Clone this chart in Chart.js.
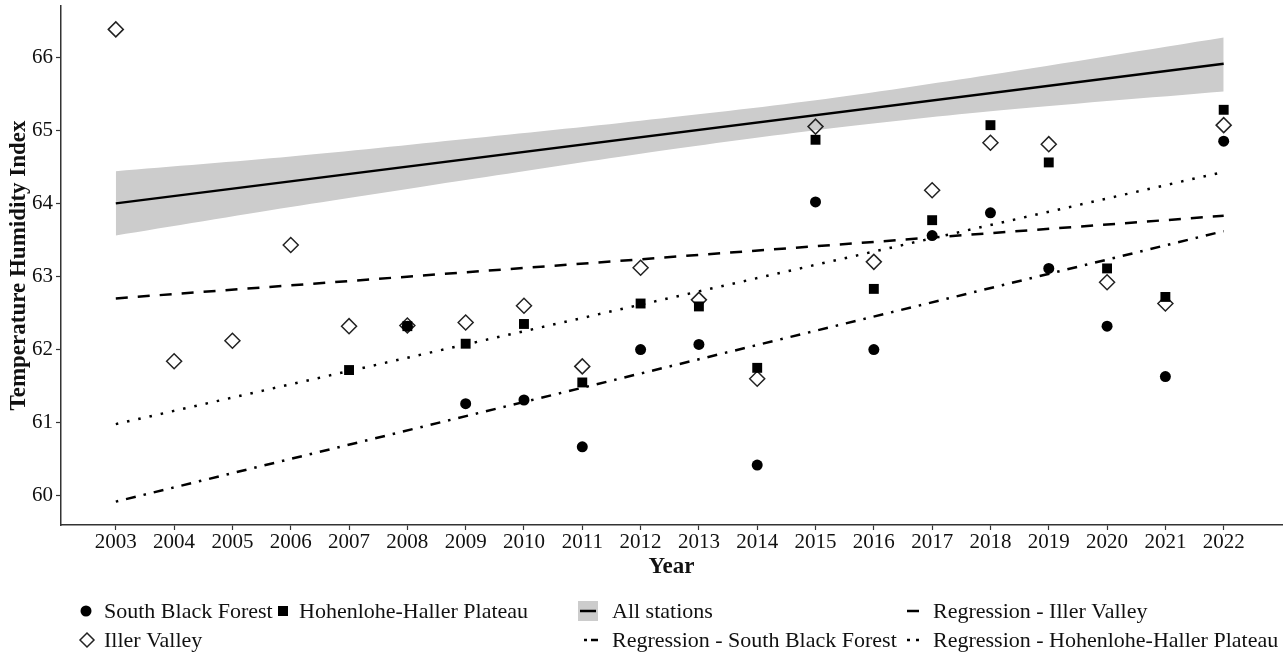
<!DOCTYPE html>
<html>
<head>
<meta charset="utf-8">
<script src="https://cdn.jsdelivr.net/npm/chart.js@4/dist/chart.umd.min.js"></script>
<style>
  html, body { margin: 0; padding: 0; background: #ffffff; overflow: hidden; }
  #wrap { width: 1285px; height: 659px; }
  canvas { display: block; }
</style>
</head>
<body>
<div id="wrap"><canvas id="c" width="1285" height="659"></canvas></div>
<script>
// ---------- DATA ----------
const years = [2003, 2004, 2005, 2006, 2007, 2008, 2009, 2010, 2011, 2012,
               2013, 2014, 2015, 2016, 2017, 2018, 2019, 2020, 2021, 2022];

const southBlackForest = [null, null, null, null, null, 62.32, 61.26, 61.31, 60.67, 62.00,
                          62.07, 60.42, 64.02, 62.00, 63.56, 63.87, 63.11, 62.32, 61.63, 64.85];
const hohenloheHaller  = [null, null, null, null, 61.72, 62.32, 62.08, 62.35, 61.55, 62.63,
                          62.59, 61.75, 64.87, 62.83, 63.77, 65.07, 64.56, 63.11, 62.72, 65.28];
const illerValley      = [66.38, 61.84, 62.12, 63.43, 62.32, 62.33, 62.37, 62.60, 61.77, 63.12,
                          62.68, 61.60, 65.05, 63.20, 64.18, 64.83, 64.81, 62.92, 62.63, 65.07];

// regression lines (end points)
const regYears      = [2003, 2022];
const allStations   = [64.00, 65.91];
const regIller      = [62.70, 63.83];
const regSBF        = [59.92, 63.62];
const regHHP        = [60.98, 64.43];

// confidence band of "All stations"
const ribbonYears = [2003, 2006, 2009, 2012, 2015, 2018, 2022];
const ribbonUpper = [64.44, 64.64, 64.88, 65.13, 65.41, 65.76, 66.27];
const ribbonLower = [63.56, 63.95, 64.32, 64.68, 65.00, 65.26, 65.53];

const yTicks = [60, 61, 62, 63, 64, 65, 66];

const legendLabels = ['South Black Forest', 'Hohenlohe-Haller Plateau', 'All stations',
                      'Regression - Iller Valley', 'Iller Valley',
                      'Regression - South Black Forest', 'Regression - Hohenlohe-Haller Plateau'];

// ---------- helpers ----------
const pts = (xs, ys) => xs.map((x, i) => ({ x: x, y: ys[i] })).filter(p => p.y !== null);
const FONT = '"Liberation Serif", "Times New Roman", Times, serif';
const AXIS = '#333333';
const noPad = s => { s.paddingTop = 0; s.paddingBottom = 0; s.paddingLeft = 0; s.paddingRight = 0; };

// ---------- custom legend (drawn on canvas) ----------
const legendPlugin = {
  id: 'ggLegend',
  afterDraw(chart) {
    const ctx = chart.ctx;
    const r1 = 611, r2 = 640;
    ctx.save();
    ctx.font = '22px ' + FONT;
    ctx.fillStyle = '#111';
    ctx.textBaseline = 'middle';
    ctx.textAlign = 'left';
    // row 1
    ctx.beginPath(); ctx.arc(86, r1, 5.5, 0, Math.PI * 2); ctx.fillStyle = '#000'; ctx.fill();
    ctx.fillStyle = '#111'; ctx.fillText(legendLabels[0], 104, r1 + 1);
    ctx.fillStyle = '#000'; ctx.fillRect(278, r1 - 5, 10, 10);
    ctx.fillStyle = '#111'; ctx.fillText(legendLabels[1], 299, r1 + 1);
    ctx.fillStyle = '#cccccc'; ctx.fillRect(578, r1 - 10, 20, 20);
    ctx.strokeStyle = '#000'; ctx.lineWidth = 2.5;
    ctx.beginPath(); ctx.moveTo(580, r1); ctx.lineTo(596, r1); ctx.stroke();
    ctx.fillStyle = '#111'; ctx.fillText(legendLabels[2], 612, r1 + 1);
    ctx.beginPath(); ctx.moveTo(907, r1); ctx.lineTo(919, r1); ctx.stroke();
    ctx.fillText(legendLabels[3], 933, r1 + 1);
    // row 2
    ctx.lineWidth = 1.5; ctx.strokeStyle = '#222';
    ctx.beginPath();
    ctx.moveTo(87 - 7, r2); ctx.lineTo(87, r2 - 7); ctx.lineTo(87 + 7, r2); ctx.lineTo(87, r2 + 7);
    ctx.closePath(); ctx.stroke();
    ctx.fillText(legendLabels[4], 104, r2 + 1);
    ctx.strokeStyle = '#000'; ctx.lineWidth = 2.5;
    ctx.beginPath(); ctx.moveTo(584, r2); ctx.lineTo(587, r2); ctx.stroke();
    ctx.beginPath(); ctx.moveTo(591, r2); ctx.lineTo(598, r2); ctx.stroke();
    ctx.fillText(legendLabels[5], 612, r2 + 1);
    ctx.beginPath(); ctx.moveTo(907, r2); ctx.lineTo(910, r2); ctx.stroke();
    ctx.beginPath(); ctx.moveTo(916, r2); ctx.lineTo(919, r2); ctx.stroke();
    ctx.fillText(legendLabels[6], 933, r2 + 1);
    ctx.restore();
  }
};

const lineBase = { pointRadius: 0, borderWidth: 2.5, borderColor: '#000', fill: false,
                   tension: 0, borderCapStyle: 'butt', showLine: true };

new Chart(document.getElementById('c'), {
  type: 'line',
  data: {
    datasets: [
      { label: legendLabels[1], data: pts(years, hohenloheHaller), showLine: false,
        pointStyle: 'rect', pointRadius: 7, backgroundColor: '#000', borderColor: '#000', borderWidth: 0 },
      { label: legendLabels[0], data: pts(years, southBlackForest), showLine: false,
        pointStyle: 'circle', pointRadius: 5.5, backgroundColor: '#000', borderColor: '#000', borderWidth: 0 },
      { label: legendLabels[4], data: pts(years, illerValley), showLine: false,
        pointStyle: 'rectRot', pointRadius: 7.5, backgroundColor: 'rgba(255,255,255,0)', borderColor: '#222', borderWidth: 1.5 },
      Object.assign({ label: legendLabels[2], data: pts(regYears, allStations) }, lineBase),
      Object.assign({ label: legendLabels[3], data: pts(regYears, regIller) }, lineBase, { borderDash: [12, 10] }),
      Object.assign({ label: legendLabels[5], data: pts(regYears, regSBF) }, lineBase, { borderDash: [2.5, 8, 10, 8] }),
      Object.assign({ label: legendLabels[6], data: pts(regYears, regHHP) }, lineBase, { borderDash: [2.5, 9] }),
      { label: 'band upper', data: pts(ribbonYears, ribbonUpper), pointRadius: 0, borderWidth: 0,
        borderColor: 'rgba(0,0,0,0)', fill: false, tension: 0.3 },
      { label: 'band lower', data: pts(ribbonYears, ribbonLower), pointRadius: 0, borderWidth: 0,
        borderColor: 'rgba(0,0,0,0)', backgroundColor: '#cccccc', fill: '-1', tension: 0.3 }
    ]
  },
  options: {
    responsive: false,
    animation: false,
    devicePixelRatio: 1,
    layout: { autoPadding: false, padding: { left: 0, right: 3, top: 6, bottom: 80 } },
    plugins: { legend: { display: false }, tooltip: { enabled: false } },
    scales: {
      x: {
        type: 'linear', min: 2002.06, max: 2023.0,
        afterBuildTicks: s => { s.ticks = years.map(v => ({ value: v })); },
        afterFit: s => { noPad(s); },
        ticks: { autoSkip: false, maxRotation: 0, padding: 2, color: '#111',
                 font: { family: FONT, size: 21, lineHeight: 1 }, callback: v => String(v) },
        grid: { drawOnChartArea: false, drawTicks: true, tickLength: 5, tickColor: AXIS, tickWidth: 1.2 },
        border: { display: true, color: AXIS, width: 1.5 },
        title: { display: true, text: 'Year', color: '#111', padding: { top: 1, bottom: 0 },
                 font: { family: FONT, size: 23, weight: 'bold', lineHeight: 1 } }
      },
      y: {
        type: 'linear', min: 59.6, max: 66.7,
        afterBuildTicks: s => { s.ticks = yTicks.map(v => ({ value: v })); },
        afterFit: s => { s.width = 61; noPad(s); },
        ticks: { padding: 3, color: '#111', font: { family: FONT, size: 21, lineHeight: 1 },
                 callback: v => String(v) },
        grid: { drawOnChartArea: false, drawTicks: true, tickLength: 5, tickColor: AXIS, tickWidth: 1.2 },
        border: { display: true, color: AXIS, width: 1.5 },
        title: { display: true, text: 'Temperature Humidity Index', color: '#111', padding: { top: 8, bottom: 4 },
                 font: { family: FONT, size: 23, weight: 'bold', lineHeight: 1 } }
      }
    }
  },
  plugins: [legendPlugin]
});
</script>
</body>
</html>
